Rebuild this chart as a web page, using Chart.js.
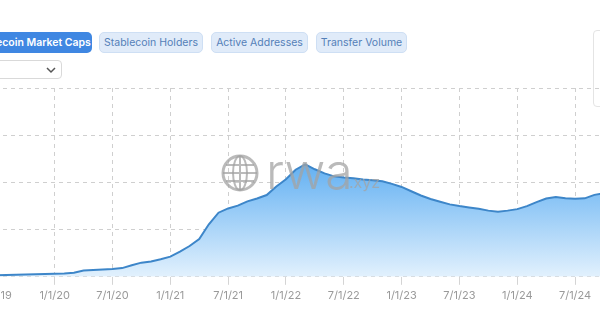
<!DOCTYPE html>
<html>
<head>
<meta charset="utf-8">
<script src="https://cdn.jsdelivr.net/npm/chart.js@4.4.1/dist/chart.umd.min.js"></script>
<style>
  html, body { margin: 0; padding: 0; background: #fff; }
  body { width: 600px; height: 315px; overflow: hidden; position: relative; font-family: Inter, "Noto Sans", sans-serif; }
  .btn { position: absolute; top: 32px; height: 21px; line-height: 21px; font-size: 10.5px; border-radius: 5px; box-sizing: border-box; text-align: center; white-space: nowrap; }
  .on { background: #3f87e2; color: #fff; font-weight: 600; text-align: right; padding-right: 10px; }
  .off { background: #e0ebf9; border: 1px solid #cedff4; color: #5480b8; line-height: 19px; }
  #sel { position: absolute; left: -20px; top: 60px; width: 82px; height: 19px; border: 1px solid #d9d9d9; border-radius: 4px; box-sizing: border-box; background: #fff; }
  #sel svg { position: absolute; left: 64px; top: 4px; }
  #side { position: absolute; left: 593px; top: 30px; width: 20px; height: 75px; border: 1px solid #e4e4e4; border-radius: 4px; background: #fff; }
  #wrap { position: absolute; left: -61px; top: 80px; width: 665px; height: 229px; }
</style>
</head>
<body>
<div class="btn on" style="left:-30px;width:122px;">Stablecoin Market Caps</div>
<div class="btn off" style="left:99px;width:104px;">Stablecoin Holders</div>
<div class="btn off" style="left:211px;width:97px;">Active Addresses</div>
<div class="btn off" style="left:316px;width:91px;">Transfer Volume</div>
<div id="sel"><svg width="12" height="10" viewBox="0 0 12 10"><path d="M2 3 L6 7 L10 3" fill="none" stroke="#555" stroke-width="1.5"/></svg></div>
<div id="side"></div>
<div id="wrap"><canvas id="chart"></canvas></div>
<script>
// months counted from 7/1/19 = 0
const months = [];
for (let m = -6; m <= 63; m++) months.push(m);

// market cap, billions USD
const marketCap = [
  1.2, 1.3, 1.4, 1.5, 1.6, 1.65,
  1.7, 1.9, 2.1, 2.35, 2.7, 2.9,
  3.2, 3.4, 4.3, 6.6, 7.3, 7.7,
  8.2, 9.2, 12.3, 15.0, 16.3, 18.6,
  21.4, 26.7, 32.6, 40.1, 55.6, 67.9,
  72.4, 75.4, 79.9, 82.9, 86.6, 95.7,
  103.4, 113.4, 119.2, 113.9, 109.6, 106.4,
  105.1, 104.3, 103.2, 102.4, 101.2, 98.4,
  95.2, 90.6, 86.1, 82.4, 79.5, 76.7,
  74.9, 73.4, 72.0, 70.1, 68.8, 70.1,
  71.7, 74.9, 79.1, 82.9, 84.5, 83.1,
  82.7, 83.1, 86.8, 88.4
];

const tickMonths = [0, 6, 12, 18, 24, 30, 36, 42, 48, 54, 60];
const tickLabels = ["7/1/19", "1/1/20", "7/1/20", "1/1/21", "7/1/21", "1/1/22", "7/1/22", "1/1/23", "7/1/23", "1/1/24", "7/1/24"];

const points = months.map((m, i) => ({ x: m, y: marketCap[i] }));

const watermark = {
  id: "watermark",
  afterDatasetsDraw(chart) {
    const c = chart.ctx;
    c.save();
    c.globalAlpha = 0.75;
    c.strokeStyle = "#a3a3a3";
    c.fillStyle = "#a3a3a3";
    c.lineWidth = 3;
    const cx = 301, cy = 93, r = 17;
    c.beginPath(); c.arc(cx, cy, r, 0, Math.PI * 2); c.stroke();
    c.lineWidth = 2;
    c.beginPath(); c.ellipse(cx, cy, 7, r, 0, 0, Math.PI * 2); c.stroke();
    c.beginPath();
    c.moveTo(cx, cy - r); c.lineTo(cx, cy + r);
    c.moveTo(cx - r, cy); c.lineTo(cx + r, cy);
    c.moveTo(cx - r + 3, cy - 8); c.lineTo(cx + r - 3, cy - 8);
    c.moveTo(cx - r + 3, cy + 8); c.lineTo(cx + r - 3, cy + 8);
    c.stroke();
    c.font = "300 50px Inter, 'Noto Sans', sans-serif";
    c.textBaseline = "alphabetic";
    c.fillText("rwa", 327, 109);
    c.font = "400 16px Inter, 'Noto Sans', sans-serif";
    c.fillText(".xyz", 410, 108);
    c.restore();
  }
};

new Chart(document.getElementById("chart").getContext("2d"), {
  type: "line",
  data: {
    datasets: [{
      data: points,
      borderColor: "#3d86c9",
      borderWidth: 2,
      pointRadius: 0,
      tension: 0,
      fill: "origin",
      backgroundColor: (ctx) => {
        const area = ctx.chart.chartArea;
        if (!area) return "#9fd0f7";
        const g = ctx.chart.ctx.createLinearGradient(0, area.top, 0, area.bottom);
        g.addColorStop(0, "#3f9bee");
        g.addColorStop(0.4, "#62b0f2");
        g.addColorStop(1, "#e2f1fd");
        return g;
      }
    }]
  },
  options: {
    responsive: true,
    maintainAspectRatio: false,
    animation: false,
    layout: { padding: { top: 8, bottom: 3, left: 0, right: 0 } },
    plugins: { legend: { display: false }, tooltip: { enabled: false } },
    scales: {
      x: {
        type: "linear",
        min: -6,
        max: 63,
        afterBuildTicks: (scale) => { scale.ticks = tickMonths.map(v => ({ value: v })); },
        ticks: {
          autoSkip: false,
          maxRotation: 0,
          padding: 4,
          color: "#9a9a9a",
          font: { family: "Inter, 'Noto Sans', sans-serif", size: 11 },
          callback: (v, i) => tickLabels[i]
        },
        grid: { color: "#cfcfcf", tickLength: 8, tickColor: "#d4d4d4" },
        border: { display: false, dash: [4, 4] }
      },
      y: {
        min: 0,
        max: 200,
        ticks: { display: false, stepSize: 50 },
        grid: { color: "#cfcfcf", drawTicks: false },
        border: { display: false, dash: [4, 4] }
      }
    }
  },
  plugins: [watermark]
});
</script>
</body>
</html>
